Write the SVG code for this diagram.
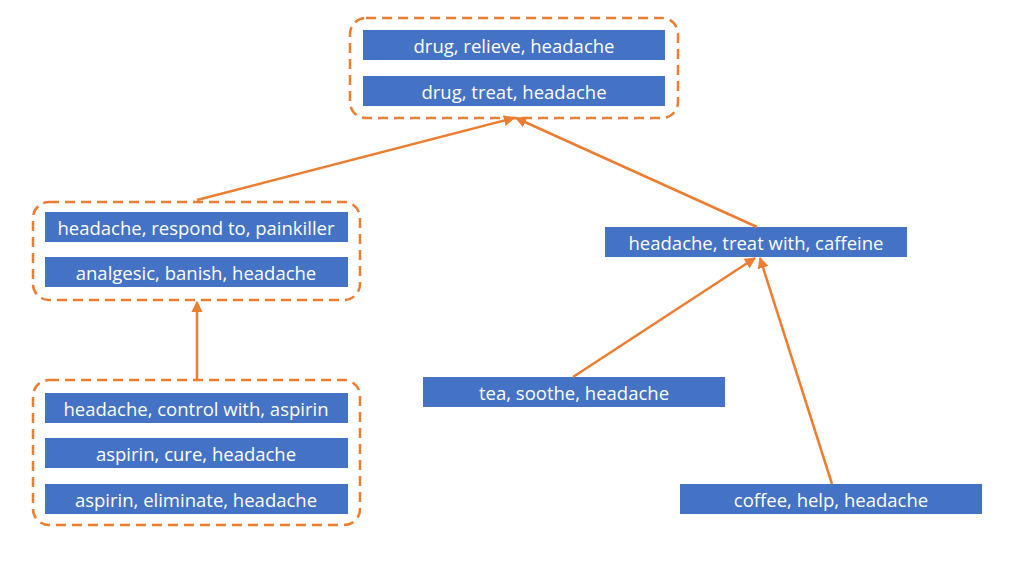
<svg xmlns="http://www.w3.org/2000/svg" width="1024" height="576" viewBox="0 0 1024 576">
<style>
.n{fill:#4472C4}
.t{font-family:"Open Sans","Noto Sans",sans-serif;font-size:18.5px;fill:#fff;text-anchor:middle;dominant-baseline:central}
.g{fill:none;stroke:#ED7D31;stroke-width:2.5;stroke-dasharray:10 6}
.c{stroke:#ED7D31;stroke-width:2.5;fill:none;marker-end:url(#a)}
</style>
<defs>
<marker id="a" viewBox="0 0 10 10" refX="9" refY="5" markerWidth="4.5" markerHeight="4.5" orient="auto" markerUnits="strokeWidth">
<path d="M0,0L10,5L0,10z" fill="#ED7D31"/>
</marker>
</defs>
<rect width="1024" height="576" fill="#fff"/>
<g id="group-top">
<rect class="g" x="350" y="18" width="328" height="100" rx="16"/>
<g id="n1"><rect class="n" x="363" y="30" width="302" height="30"/><text class="t" x="514" y="45">drug, relieve, headache</text></g>
<g id="n2"><rect class="n" x="363" y="76" width="302" height="30"/><text class="t" x="514" y="91">drug, treat, headache</text></g>
</g>
<g id="group-mid">
<rect class="g" x="33" y="202" width="327" height="98" rx="16"/>
<g id="n3"><rect class="n" x="45" y="212" width="303" height="30"/><text class="t" x="196" y="227">headache, respond to, painkiller</text></g>
<g id="n4"><rect class="n" x="45" y="257" width="303" height="30"/><text class="t" x="196" y="272">analgesic, banish, headache</text></g>
</g>
<g id="group-bottom">
<rect class="g" x="33" y="380" width="327" height="145" rx="16"/>
<g id="n5"><rect class="n" x="45" y="393" width="303" height="30"/><text class="t" x="196" y="408">headache, control with, aspirin</text></g>
<g id="n6"><rect class="n" x="45" y="438" width="303" height="30"/><text class="t" x="196" y="453">aspirin, cure, headache</text></g>
<g id="n7"><rect class="n" x="45" y="484" width="303" height="30"/><text class="t" x="196" y="499">aspirin, eliminate, headache</text></g>
</g>
<g id="n8"><rect class="n" x="605" y="227" width="302" height="30"/><text class="t" x="756" y="242">headache, treat with, caffeine</text></g>
<g id="n9"><rect class="n" x="423" y="377" width="302" height="30"/><text class="t" x="574" y="392">tea, soothe, headache</text></g>
<g id="n10"><rect class="n" x="680" y="484" width="302" height="30"/><text class="t" x="831" y="499">coffee, help, headache</text></g>
<g id="connectors">
<line class="c" x1="197" y1="200" x2="514" y2="118"/>
<line class="c" x1="757" y1="227" x2="516" y2="118"/>
<line class="c" x1="197" y1="380" x2="197" y2="302"/>
<line class="c" x1="573" y1="377" x2="755" y2="258"/>
<line class="c" x1="832" y1="484" x2="760" y2="258"/>
</g>
</svg>
